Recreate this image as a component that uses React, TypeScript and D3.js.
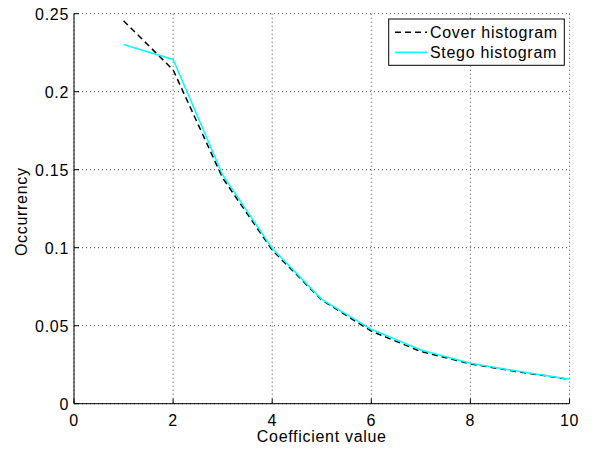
import React from "react";
import * as d3 from "d3";

const coefficients = [1, 2, 3, 4, 5, 6, 7, 8, 9, 10];
const coverValues = [0.2455, 0.214, 0.1447, 0.0985, 0.0665, 0.0465, 0.0335, 0.0255, 0.0203, 0.0156];
const stegoValues = [0.2303, 0.2207, 0.1466, 0.0996, 0.0669, 0.0477, 0.0344, 0.0259, 0.0206, 0.0157];
const xTicks = [0, 2, 4, 6, 8, 10];
const yTicks = [0, 0.05, 0.1, 0.15, 0.2, 0.25];
const yTickLabels = ["0", "0.05", "0.1", "0.15", "0.2", "0.25"];
const seriesNames = ["Cover histogram", "Stego histogram"];

const W = 598;
const H = 450;
const left = 74;
const right = 569.5;
const top = 13.7;
const bottom = 403.7;
const FONT = "'Liberation Sans', Arial, Helvetica, sans-serif";
const FS = 16;
const LS = 0.7;

export default function App() {
  const x = d3.scaleLinear().domain([0, 10]).range([left, right]);
  const y = d3.scaleLinear().domain([0, 0.25]).range([bottom, top]);
  const line = d3
    .line<number>()
    .x((_, i) => x(coefficients[i]))
    .y((d) => y(d));

  return (
    <svg
      width={W}
      height={H}
      style={{ position: "absolute", left: 0, top: 0, background: "#fff" }}
      fontFamily={FONT}
      letterSpacing={LS}
    >
      <rect x={0} y={0} width={W} height={H} fill="#fff" />
      {/* grid */}
      {xTicks.map((t) => (
        <line
          key={"gx" + t}
          x1={x(t)}
          x2={x(t)}
          y1={top}
          y2={bottom}
          stroke="#444"
          strokeWidth={1}
          strokeDasharray="1,3"
        />
      ))}
      {yTicks.map((t) => (
        <line
          key={"gy" + t}
          x1={left}
          x2={right}
          y1={y(t)}
          y2={y(t)}
          stroke="#444"
          strokeWidth={1}
          strokeDasharray="1,3"
        />
      ))}
      {/* axes */}
      <line x1={left} x2={left} y1={top} y2={bottom} stroke="#000" strokeWidth={1} />
      <line x1={left} x2={right} y1={bottom} y2={bottom} stroke="#000" strokeWidth={1} />
      {xTicks.map((t) => (
        <g key={"tx" + t}>
          <line x1={x(t)} x2={x(t)} y1={bottom} y2={bottom - 5} stroke="#000" />
          <text x={x(t)} y={425.5} textAnchor="middle" fontSize={FS} fill="#000">
            {t}
          </text>
        </g>
      ))}
      {yTicks.map((t, i) => (
        <g key={"ty" + t}>
          <line x1={left} x2={left + 5} y1={y(t)} y2={y(t)} stroke="#000" />
          <text x={left - 5} y={y(t) + 6} textAnchor="end" fontSize={FS} fill="#000">
            {yTickLabels[i]}
          </text>
        </g>
      ))}
      {/* series */}
      <path
        d={line(coverValues) || ""}
        fill="none"
        stroke="#000"
        strokeWidth={1.5}
        strokeDasharray="6,4"
      />
      <path d={line(stegoValues) || ""} fill="none" stroke="#00ffff" strokeWidth={1.5} />
      {/* labels */}
      <text x={(left + right) / 2} y={442} textAnchor="middle" fontSize={FS} fill="#000">
        Coefficient value
      </text>
      <text
        transform={`translate(27,${(top + bottom) / 2 + 3}) rotate(-90)`}
        textAnchor="middle"
        fontSize={FS}
        fill="#000"
      >
        Occurrency
      </text>
      {/* legend */}
      <rect x={388.7} y={19} width={175.6} height={46.3} fill="#fff" stroke="#000" strokeWidth={1} />
      <line x1={395} x2={427} y1={32.3} y2={32.3} stroke="#000" strokeWidth={1.5} strokeDasharray="6,4" />
      <line x1={395} x2={427} y1={52.3} y2={52.3} stroke="#00ffff" strokeWidth={1.5} />
      <text x={430} y={38} fontSize={FS} fill="#000">
        {seriesNames[0]}
      </text>
      <text x={430} y={58} fontSize={FS} fill="#000">
        {seriesNames[1]}
      </text>
    </svg>
  );
}
